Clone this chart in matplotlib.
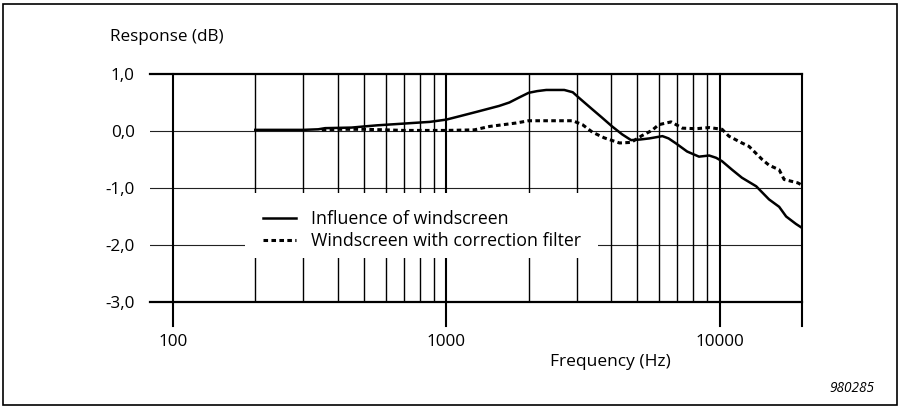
import matplotlib
matplotlib.use("Agg")
import matplotlib.pyplot as plt
from matplotlib.patches import Rectangle

plt.rcParams['font.family'] = ['Open Sans', 'DejaVu Sans']

# Influence of windscreen (solid)
freq_ws = [200, 250, 300, 340, 360, 450, 500, 560, 650, 750, 870, 1000, 1120,
           1300, 1560, 1700, 1850, 2000, 2150, 2320, 2700, 2900, 3060, 3420,
           3700, 4040, 4400, 4740, 5100, 5530, 6170, 6500, 6930, 7600, 8400,
           9150, 9700, 10200, 11100, 12060, 13600, 15150, 16500, 17500, 19000,
           20000]
resp_ws = [0.02, 0.02, 0.02, 0.03, 0.05, 0.06, 0.08, 0.10, 0.12, 0.14, 0.16,
           0.20, 0.26, 0.34, 0.44, 0.50, 0.59, 0.67, 0.70, 0.72, 0.72, 0.68,
           0.58, 0.38, 0.24, 0.08, -0.06, -0.16, -0.15, -0.13, -0.09, -0.13,
           -0.22, -0.36, -0.45, -0.43, -0.47, -0.53, -0.68, -0.82, -0.97,
           -1.20, -1.33, -1.50, -1.63, -1.70]

# Windscreen with correction filter (dotted)
freq_corr = [350, 400, 500, 600, 700, 800, 1000, 1265, 1440, 1800, 2000, 2900,
             3150, 3420, 3780, 4300, 4740, 5200, 5650, 5980, 6640, 7300, 8200,
             9150, 10200, 10800, 12060, 12800, 14300, 15150, 16500, 17200,
             19300, 20000]
resp_corr = [0.02, 0.03, 0.03, 0.02, 0.01, 0.01, 0.01, 0.02, 0.08, 0.14, 0.18,
             0.18, 0.11, -0.02, -0.12, -0.21, -0.20, -0.08, 0.01, 0.11, 0.16,
             0.05, 0.04, 0.06, 0.03, -0.09, -0.21, -0.27, -0.50, -0.60, -0.68,
             -0.85, -0.91, -0.95]

y_ticks = [1.0, 0.0, -1.0, -2.0, -3.0]
y_labels = ["1,0", "0,0", "-1,0", "-2,0", "-3,0"]
x_ticks = [100, 1000, 10000]
x_labels = ["100", "1000", "10000"]

W, H = 900, 407
FS = 12.3
fig = plt.figure(figsize=(W / 100, H / 100), dpi=100)
ax = fig.add_axes([150 / W, 1 - 302 / H, 652 / W, 228 / H])
ax.set_xscale('log')
xmin, xmax = 82.4, 20000
ax.set_xlim(xmin, xmax)
ax.set_ylim(-3.0, 1.0)
for s in ax.spines.values():
    s.set_visible(False)

# horizontal grid
for yv in [0.0, -1.0, -2.0]:
    ax.plot([xmin, xmax], [yv, yv], color='#222222', lw=0.8, zorder=1)
for yv in [1.0, -3.0]:
    ax.plot([xmin, xmax], [yv, yv], color='black', lw=1.6, zorder=1,
            clip_on=False)

# vertical grid
minor = [m * d for d in (100, 1000) for m in range(2, 10)]
for xv in minor:
    ax.plot([xv, xv], [-3.0, 1.0], color='black', lw=1.0, zorder=1)
for xv in [100, 1000, 10000, 20000]:
    ax.plot([xv, xv], [-3.42, 1.0], color='black', lw=1.5, zorder=1,
            clip_on=False)

# blank area behind the legend
ax.add_patch(Rectangle((183, -2.22), 3581 - 183, 1.14, facecolor='white',
                       edgecolor='none', zorder=2))

l1, = ax.plot(freq_ws, resp_ws, color='black', lw=1.8, zorder=3,
              label='Influence of windscreen')
l2, = ax.plot(freq_corr, resp_corr, color='black', lw=2.2, zorder=3,
              linestyle=(0, (1.5, 1.1)),
              label='Windscreen with correction filter')

ax.set_yticks(y_ticks)
ax.set_yticklabels(y_labels)
ax.set_xticks(x_ticks)
ax.set_xticklabels(x_labels)
ax.xaxis.set_minor_locator(matplotlib.ticker.NullLocator())
ax.tick_params(axis='y', length=0, pad=11, labelsize=FS)
ax.tick_params(axis='x', length=0, pad=23, labelsize=FS)

leg = ax.legend(handles=[l1, l2], loc='upper left',
                bbox_to_anchor=(263 / W, 1 - 210 / H),
                bbox_transform=fig.transFigure, frameon=False,
                fontsize=12.8, borderpad=0, handlelength=1.85,
                handletextpad=0.85, labelspacing=0.22, borderaxespad=0)
leg.set_zorder(4)

fig.text(110 / W, 1 - 37 / H, "Response (dB)", fontsize=FS,
         ha='left', va='center')
fig.text(610 / W, 1 - 362 / H, "Frequency (Hz)", fontsize=12.5,
         ha='center', va='center')
fig.text(874 / W, 1 - 388 / H, "980285", fontsize=9.8, style='italic',
         ha='right', va='center')

# outer frame
fig.patches.append(Rectangle((3 / W, 1 - 405 / H), 894 / W, 401 / H,
                             transform=fig.transFigure, fill=False,
                             edgecolor='black', lw=1.2))

fig.savefig("out.png", dpi=100)
